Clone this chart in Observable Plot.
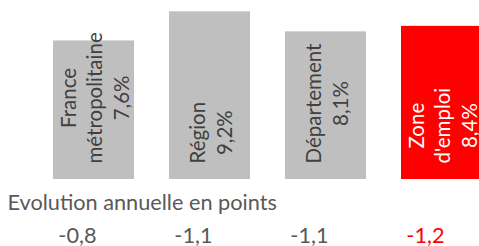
<!DOCTYPE html>
<html><head><meta charset="utf-8">
<script src="https://cdn.jsdelivr.net/npm/d3@7"></script>
<script src="https://cdn.jsdelivr.net/npm/@observablehq/plot@0.6"></script>
<style>body{margin:0;overflow:hidden;background:#fff}</style>
</head><body><div id="chart"></div><script>
const categories = ["France métropolitaine", "Région", "Département", "Zone d'emploi"];
const labelLines = [["France", "métropolitaine"], ["Région"], ["Département"], ["Zone", "d'emploi"]];
const rates = [7.6, 9.2, 8.1, 8.4];
const evolutions = [-0.8, -1.1, -1.1, -1.2];
const highlighted = [false, false, false, true];
const evolutionTitle = "Evolution annuelle en points";

const fmt = v => v.toFixed(1).replace(".", ",");
const data = categories.map((c, i) => ({
  cat: c,
  rate: rates[i],
  evo: evolutions[i],
  hl: highlighted[i],
  lines: [...labelLines[i], fmt(rates[i]) + "%"]
}));

const FONT = "Lato";
const labelSize = 20.5;
const bottomSize = 21.7;
const ctx = document.createElement("canvas").getContext("2d");
ctx.font = `${labelSize}px ${FONT}`;
const maxW = d => Math.max(...d.lines.map(l => ctx.measureText(l).width));

const grey = "#BFBFBF", red = "#FF0000";

const marks = [
  Plot.barY(data, {x: "cat", y: "rate", fill: d => d.hl ? red : grey}),
  ...data.map(d => Plot.text([d], {
    x: "cat", frameAnchor: "bottom", rotate: -90,
    text: d => d.lines.join("\n"),
    textAnchor: "middle", lineAnchor: "middle", lineHeight: 1.29,
    dy: -16 - maxW(d) / 2,
    fill: d.hl ? "#FFFFFF" : "#404040",
    fontSize: labelSize, fontFamily: FONT
  })),
  Plot.text([evolutionTitle], {
    frameAnchor: "bottom-left", text: d => d, textAnchor: "start", lineAnchor: "bottom",
    dx: 7, dy: 30, fill: "#595959", fontSize: bottomSize, fontFamily: FONT
  }),
  Plot.text(data, {
    x: "cat", frameAnchor: "bottom", text: d => fmt(d.evo),
    textAnchor: "middle", lineAnchor: "bottom", dx: -16.6, dy: 63,
    fill: d => d.hl ? red : "#595959", fontSize: bottomSize, fontFamily: FONT
  })
];

const chart = Plot.plot({
  width: 479, height: 246,
  marginTop: 0, marginBottom: 67, marginLeft: 0, marginRight: 0,
  x: {type: "band", domain: categories, range: [18.2, 517], padding: 0.3, axis: null},
  y: {domain: [0, 9.82], axis: null},
  style: {background: "#fff", overflow: "hidden"},
  marks
});
document.getElementById("chart").appendChild(chart);
</script></body></html>
